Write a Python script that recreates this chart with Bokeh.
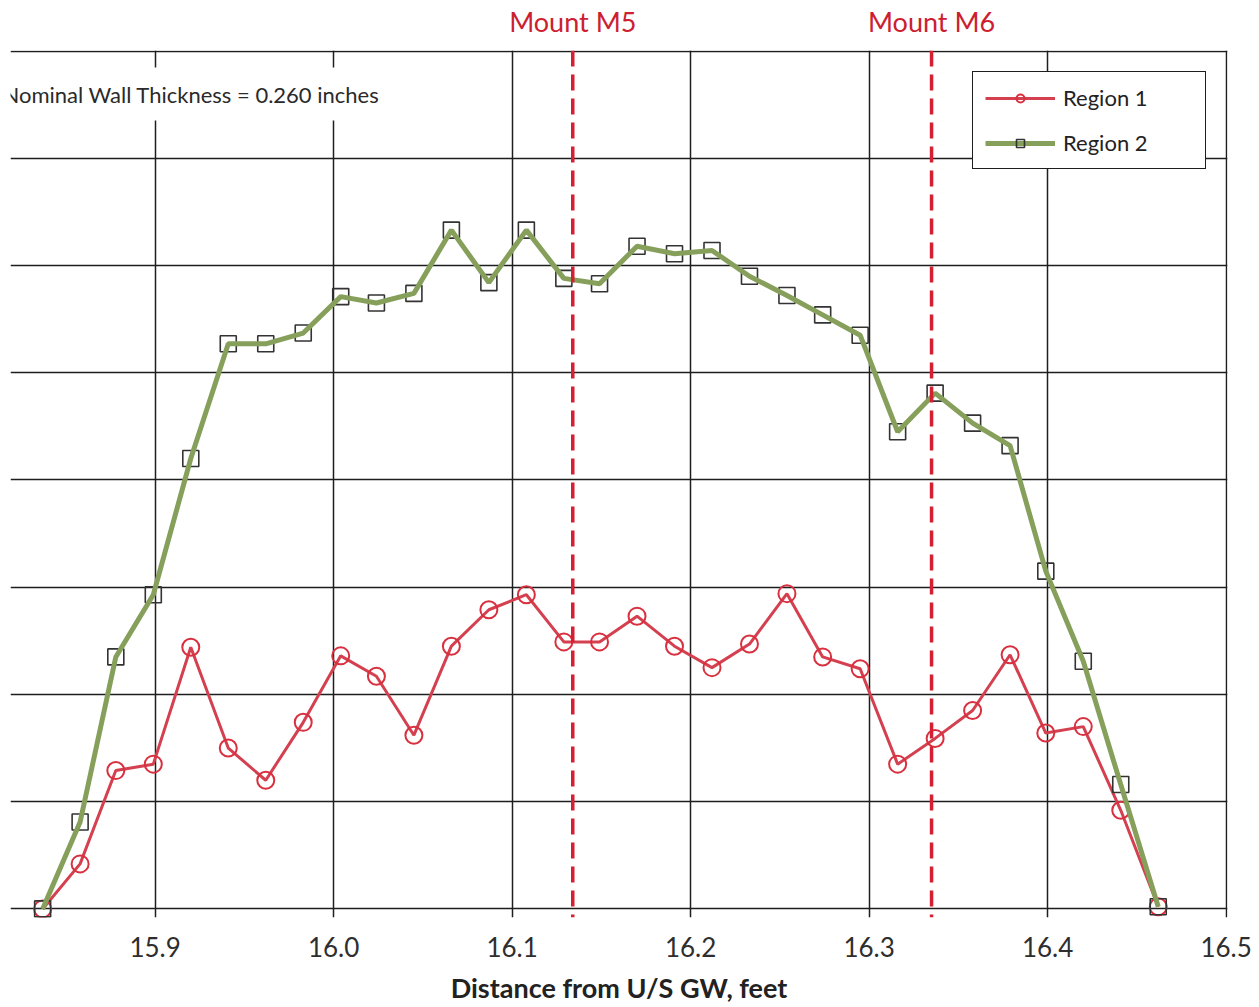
from bokeh.plotting import figure
from bokeh.models import FixedTicker, Span, Label, Legend, LegendItem, LinearAxis
from bokeh.embed import file_html
from bokeh.resources import INLINE

# ---------------- data ----------------
distance_ft = [15.837, 15.858, 15.878, 15.899, 15.920, 15.941, 15.962, 15.983,
               16.004, 16.024, 16.045, 16.066, 16.087, 16.108, 16.129, 16.149,
               16.170, 16.191, 16.212, 16.233, 16.254, 16.274, 16.295, 16.316,
               16.337, 16.358, 16.379, 16.399, 16.420, 16.441, 16.462]

region1 = [0.00, 0.42, 1.29, 1.35, 2.44, 1.50, 1.20, 1.74, 2.36, 2.17, 1.62,
           2.45, 2.79, 2.93, 2.49, 2.49, 2.73, 2.45, 2.25, 2.47, 2.94, 2.35,
           2.24, 1.35, 1.59, 1.85, 2.37, 1.64, 1.70, 0.92, 0.02]

region2 = [0.00, 0.81, 2.35, 2.93, 4.20, 5.27, 5.27, 5.37, 5.71, 5.65, 5.74,
           6.33, 5.84, 6.33, 5.88, 5.83, 6.18, 6.11, 6.14, 5.90, 5.72, 5.54,
           5.35, 4.45, 4.81, 4.53, 4.32, 3.15, 2.31, 1.16, 0.02]

x_ticks = [15.9, 16.0, 16.1, 16.2, 16.3, 16.4, 16.5]
x_tick_labels = ["15.9", "16.0", "16.1", "16.2", "16.3", "16.4", "16.5"]
y_ticks = [0, 1, 2, 3, 4, 5, 6, 7, 8]

mount_names = ["Mount M5", "Mount M6"]
mount_positions = [16.134, 16.335]

series_names = ["Region 1", "Region 2"]
note_text = "Nominal Wall Thickness = 0.260 inches"
x_title = "Distance from U/S GW, feet"

FONT = "Lato"

p = figure(width=1259, height=1007,
           x_range=(15.819, 16.5008), y_range=(-0.08, 8.005),
           output_backend="svg", toolbar_location=None,
           min_border_left=10, min_border_right=32,
           min_border_top=50, min_border_bottom=90)

p.background_fill_color = "white"
p.border_fill_color = "white"
p.outline_line_color = None

# grid
p.xaxis.ticker = FixedTicker(ticks=x_ticks)
p.xgrid.ticker = FixedTicker(ticks=x_ticks)
p.ygrid.ticker = FixedTicker(ticks=y_ticks)
for g in (p.xgrid, p.ygrid):
    g.grid_line_color = "#1e1e1e"
    g.grid_line_width = 1.5
    g.grid_line_alpha = 1.0

# axes
p.yaxis.visible = False
ax = p.xaxis[0]
ax.major_label_overrides = {t: l for t, l in zip(x_ticks, x_tick_labels)}
ax.axis_line_color = None
ax.major_tick_line_color = None
ax.minor_tick_line_color = None
ax.major_label_text_font = FONT
ax.major_label_text_font_size = "26px"
ax.major_label_text_color = "#2e2e2e"
ax.major_label_standoff = 13
ax.axis_label = x_title
ax.axis_label_text_font = FONT
ax.axis_label_text_font_size = "27px"
ax.axis_label_text_font_style = "bold"
ax.axis_label_text_color = "#222222"
ax.axis_label_standoff = 11

# mount labels as an axis above the frame
top_ax = LinearAxis(ticker=FixedTicker(ticks=mount_positions),
                    major_label_overrides={t: n for t, n in zip(mount_positions, mount_names)})
top_ax.axis_line_color = None
top_ax.major_tick_line_color = None
top_ax.minor_tick_line_color = None
top_ax.major_tick_out = 0
top_ax.major_tick_in = 0
top_ax.major_label_standoff = 13
top_ax.major_label_text_font = FONT
top_ax.major_label_text_font_size = "27px"
top_ax.major_label_text_color = "#cc2030"
p.add_layout(top_ax, "above")

# mount reference lines
for pos in mount_positions:
    p.add_layout(Span(location=pos, dimension="height", line_color="#d42032",
                      line_width=3.5, line_dash="16 8"))

# series
r1_line = p.line(distance_ft, region1, line_color="#d4404f", line_width=3)
r1_pts = p.scatter(distance_ft, region1, marker="circle", size=17,
                   fill_color=None, line_color="#d9303f", line_width=2)
r2_pts = p.scatter(distance_ft, region2, marker="square", size=16,
                   fill_color=None, line_color="#333333", line_width=1.6)
r2_line = p.line(distance_ft, region2, line_color="#86a05c", line_width=5)

# annotation with white box
p.add_layout(Label(x=15.819, y=8, x_offset=-21, y_offset=-43, text=note_text,
                   text_align="left", text_baseline="middle", text_color="#2a2a2a",
                   text_font=FONT, text_font_size="22px",
                   background_fill_color="white", background_fill_alpha=1.0,
                   padding=13))

legend = Legend(items=[LegendItem(label=series_names[0], renderers=[r1_line, r1_pts]),
                       LegendItem(label=series_names[1], renderers=[r2_line, r2_pts])],
                location="top_right", margin=21)
legend.border_line_color = "#1e1e1e"
legend.border_line_alpha = 1.0
legend.border_line_width = 1.8
legend.background_fill_color = "white"
legend.background_fill_alpha = 1.0
legend.padding = 12
legend.spacing = 18
legend.glyph_width = 70
legend.glyph_height = 20
legend.label_standoff = 8
legend.label_width = 130
legend.label_text_font = FONT
legend.label_text_font_size = "22px"
legend.label_text_color = "#222222"
p.add_layout(legend)

open("out.html", "w").write(file_html(p, INLINE))
